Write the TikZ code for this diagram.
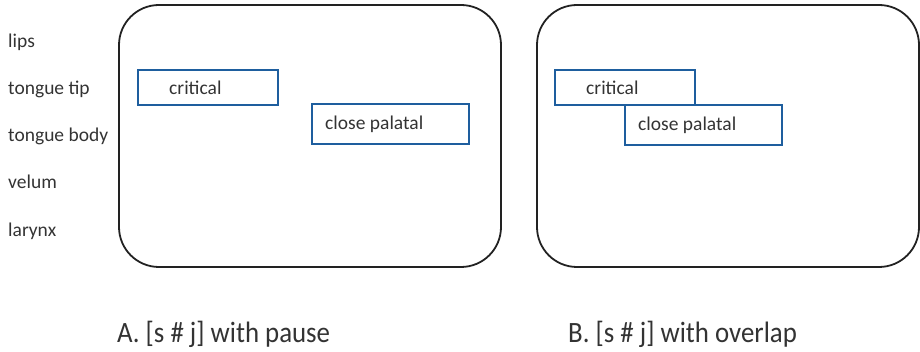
\documentclass[tikz,border=0pt]{standalone}
\usepackage{fontspec}
\setmainfont{Carlito}
\newfontfamily\capfont{Carlito}
\definecolor{framegray}{RGB}{34,34,34}
\definecolor{gestblue}{RGB}{30,94,158}
\definecolor{inkgray}{RGB}{51,51,51}
\begin{document}
\begin{tikzpicture}[x=1pt,y=-1pt,
  panel/.style={draw=framegray, line width=1.8pt, rounded corners=40pt,
    minimum width=382pt, minimum height=262pt, inner sep=0pt},
  gestbox/.style={draw=gestblue, line width=1.8pt, inner sep=0pt, anchor=north west},
  tier/.style={anchor=west, inner sep=0pt, text=inkgray,
    font=\fontsize{19.5}{23}\selectfont, text height=14pt, text depth=4pt},
  caption/.style={anchor=base west, inner sep=0pt, text=inkgray,
    font=\capfont\fontsize{29.5}{34}\selectfont}
]
\useasboundingbox (0,0) rectangle (920,352);

% articulator tiers
\node[tier] (lips)  at (8,43)  {lips};
\node[tier] (ttip)  at (8,90)  {tongue tip};
\node[tier] (tbody) at (8,137) {tongue body};
\node[tier] (vel)   at (8,184) {velum};
\node[tier] (lar)   at (8,232) {larynx};

% panel A: gestures separated by a pause
\node[panel] (pA) at (310,136) {};
\node[gestbox, minimum width=140pt, minimum height=35pt] (critA) at (137,69) {};
\node[tier] (critAtxt) at ([xshift=32pt,yshift=-2.5pt]critA.west) {critical};
\node[gestbox, minimum width=157pt, minimum height=40pt] (palA) at (311,103) {};
\node[tier] (palAtxt) at ([xshift=14pt,yshift=-1pt]palA.west) {close palatal};

% panel B: overlapping gestures
\node[panel] (pB) at (728,136) {};
\node[gestbox, minimum width=140pt, minimum height=35pt] (critB) at (554,69) {};
\node[tier] (critBtxt) at ([xshift=32pt,yshift=-2.5pt]critB.west) {critical};
\node[gestbox, minimum width=157pt, minimum height=40pt] (palB) at (624,104) {};
\node[tier] (palBtxt) at ([xshift=14pt,yshift=-1pt]palB.west) {close palatal};

% captions
\node[caption] (capA) at (117,342) {\scalebox{0.91}[1]{A. [s \# j] with pause}};
\node[caption] (capB) at (568,342) {\scalebox{0.91}[1]{B. [s \# j] with overlap}};
\end{tikzpicture}
\end{document}
